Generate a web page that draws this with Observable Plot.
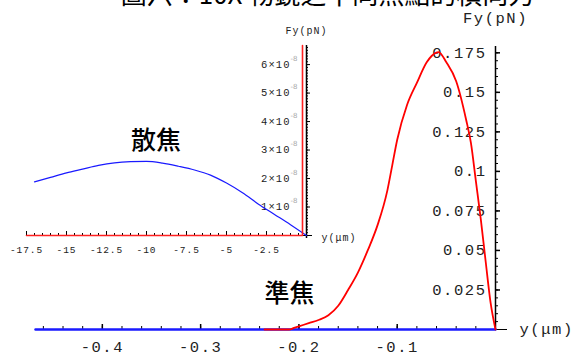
<!DOCTYPE html>
<html><head><meta charset="utf-8">
<script src="https://cdn.jsdelivr.net/npm/d3@7"></script>
<script src="https://cdn.jsdelivr.net/npm/@observablehq/plot@0.6"></script>
<style>
html,body{margin:0;padding:0;background:#fff;}
#wrap{position:relative;width:579px;height:355px;overflow:hidden;background:#fff;}
#wrap svg{position:absolute;left:0;top:0;}
#title{position:absolute;left:38px;width:579px;top:-20px;text-align:center;font-family:"Noto Sans CJK TC";font-size:26px;line-height:26px;white-space:nowrap;color:#000;}
g[font-family*="Mono"] text{letter-spacing:0.1em;}
</style></head>
<body><div id="wrap"><div id="title">圖六：10X 物鏡之不同焦點的橫向力</div></div>
<script>
const W = 579, H = 355;

// ---------- main chart (準焦) ----------
const mainXDomain = [-0.468, 0];
const mainYDomain = [0, 0.179];
const mainXMajor = [-0.4, -0.3, -0.2, -0.1];
const mainXLabels = ["-0.4", "-0.3", "-0.2", "-0.1"];
const mainYMajor = [0.025, 0.05, 0.075, 0.1, 0.125, 0.15, 0.175];
const mainYLabels = ["0.025", "0.05", "0.075", "0.1", "0.125", "0.15", "0.175"];
const mainXMinorStep = 0.02;
const mainYMinorStep = 0.005;

const focusX = [-0.235,-0.21,-0.205,-0.20,-0.19,-0.18,-0.17,-0.16,-0.15,-0.14,-0.13,-0.12,-0.11,-0.105,-0.10,-0.09,-0.08,-0.07,-0.065,-0.058,-0.05,-0.04,-0.03,-0.025,-0.02,-0.015,-0.01,-0.005,0];
const focusY = [0,0,0.001,0.002,0.004,0.006,0.009,0.015,0.025,0.036,0.050,0.066,0.088,0.104,0.120,0.142,0.156,0.169,0.173,0.1755,0.169,0.157,0.133,0.118,0.094,0.070,0.043,0.017,0];
const defocusMainX = [-0.468, 0];
const defocusMainY = [0, 0];

const mainAnnoText = ["準焦"];
const mainAnnoX = [-0.2096];
const mainAnnoY = [0.0222];

// ---------- inset chart (散焦) ----------
const insetXDomain = [-17.5, 0];
const insetYDomain = [0, 6.67e-8];
const insetXMajor = [-17.5, -15, -12.5, -10, -7.5, -5, -2.5];
const insetXLabels = ["-17.5", "-15", "-12.5", "-10", "-7.5", "-5", "-2.5"];
const insetYMajor = [1e-8, 2e-8, 3e-8, 4e-8, 5e-8, 6e-8];
const insetYLabels = ["1×10", "2×10", "3×10", "4×10", "5×10", "6×10"];
const insetYExponent = "-8";
const insetXMinorStep = 0.5;
const insetYMinorStep = 0.1e-8;

const defocusX = [-17,-16,-15,-14,-13,-12,-11,-10,-9,-8,-7,-6,-5,-4,-3,-2,-1,0];
const defocusY = [1.88e-8,2.04e-8,2.2e-8,2.33e-8,2.46e-8,2.55e-8,2.59e-8,2.6e-8,2.54e-8,2.43e-8,2.3e-8,2.12e-8,1.84e-8,1.5e-8,1.1e-8,0.74e-8,0.38e-8,0];
const focusInsetX = [-17.5, -0.25, -0.25];
const focusInsetY = [0, 0, 6.67e-8];

const insetAnnoText = ["散焦"];
const insetAnnoX = [-9.4];
const insetAnnoY = [3.3e-8];

// ---------- helpers ----------
const zip = (xs, ys) => xs.map((x, i) => ({x, y: ys[i]}));
const mono = "Liberation Mono";
const cjk = "Noto Sans CJK TC";

// main plot geometry
const mM = {left: 35, right: 84, top: 46, bottom: 26};
const mPxX = (mainXDomain[1] - mainXDomain[0]) / (W - mM.left - mM.right);
const mPxY = (mainYDomain[1] - mainYDomain[0]) / (H - mM.top - mM.bottom);
const mainXMinor = d3.range(0, mainXDomain[0] - 1e-9, -mainXMinorStep).filter(v => v < 0);
const mainYMinor = d3.range(mainYMinorStep, mainYDomain[1] + 1e-9, mainYMinorStep);

const mainPlot = Plot.plot({
  width: W, height: H,
  marginLeft: mM.left, marginRight: mM.right, marginTop: mM.top, marginBottom: mM.bottom,
  style: {background: "transparent", overflow: "visible"},
  x: {domain: mainXDomain, axis: null},
  y: {domain: mainYDomain, axis: null},
  marks: [
    Plot.ruleY([0], {x1: () => mainXDomain[0], x2: () => 12 * mPxX, stroke: "#000", strokeWidth: 1.2}),
    Plot.ruleX([0], {y1: () => 0, y2: () => mainYDomain[1], stroke: "#000", strokeWidth: 1.5}),
    Plot.ruleX(mainXMinor, {x: d => d, y1: () => 0, y2: () => 3 * mPxY, stroke: "#000"}),
    Plot.ruleX(mainXMajor, {x: d => d, y1: () => 0, y2: () => 5 * mPxY, stroke: "#000", strokeWidth: 1.5}),
    Plot.ruleY(mainYMinor, {y: d => d, x1: () => 0, x2: () => 3 * mPxX, stroke: "#000"}),
    Plot.ruleY(mainYMajor, {y: d => d, x1: () => 0, x2: () => 5 * mPxX, stroke: "#000", strokeWidth: 1.5}),
    Plot.text(mainXMajor, {x: d => d, y: () => 0, text: (d, i) => mainXLabels[i], dy: 18, fontFamily: mono, fontSize: 15.5, fill: "#222"}),
    Plot.text(mainYMajor, {x: () => 0, y: d => d, text: (d, i) => mainYLabels[i], dx: -9, textAnchor: "end", fontFamily: mono, fontSize: 15.5, fill: "#222"}),
    Plot.text(["Fy(pN)"], {x: () => 0, y: () => mainYDomain[1], text: d => d, dy: -28, fontFamily: mono, fontSize: 15.5, fill: "#222"}),
    Plot.text(["y(μm)"], {x: () => 0, y: () => 0, text: d => d, dx: 24, textAnchor: "start", fontFamily: mono, fontSize: 15.5, fill: "#222"}),
    Plot.line(zip(defocusMainX, defocusMainY), {x: "x", y: "y", stroke: "#1a1aff", strokeWidth: 2.5}),
    Plot.line(zip(focusX, focusY), {x: "x", y: "y", stroke: "#ff0000", strokeWidth: 1.8, curve: "monotone-x"}),
    Plot.text(mainAnnoText, {x: (d, i) => mainAnnoX[i], y: (d, i) => mainAnnoY[i], text: d => d, fontFamily: cjk, fontSize: 25, fontWeight: 500, fill: "#000"})
  ]
});

// inset geometry
const iM = {left: 26, right: 273, top: 45, bottom: 120};
const iPxX = (insetXDomain[1] - insetXDomain[0]) / (W - iM.left - iM.right);
const iPxY = (insetYDomain[1] - insetYDomain[0]) / (H - iM.top - iM.bottom);
const insetXMinor = d3.range(0, insetXDomain[0] - 1e-9, -insetXMinorStep).filter(v => v < 0);
const insetYMinor = d3.range(insetYMinorStep, insetYDomain[1] + 1e-18, insetYMinorStep);

const insetPlot = Plot.plot({
  width: W, height: H,
  marginLeft: iM.left, marginRight: iM.right, marginTop: iM.top, marginBottom: iM.bottom,
  style: {background: "transparent", overflow: "visible"},
  x: {domain: insetXDomain, axis: null},
  y: {domain: insetYDomain, axis: null},
  marks: [
    Plot.ruleY([0], {x1: () => insetXDomain[0], x2: () => 6 * iPxX, stroke: "#000", strokeWidth: 1.2}),
    Plot.ruleX([0], {y1: () => -3 * iPxY, y2: () => insetYDomain[1], stroke: "#000", strokeWidth: 1.5}),
    Plot.ruleX(insetXMinor, {x: d => d, y1: () => 0, y2: () => 2 * iPxY, stroke: "#000"}),
    Plot.ruleX(insetXMajor, {x: d => d, y1: () => 0, y2: () => 4 * iPxY, stroke: "#000"}),
    Plot.ruleY(insetYMinor, {y: d => d, x1: () => 0, x2: () => 2 * iPxX, stroke: "#000"}),
    Plot.ruleY(insetYMajor, {y: d => d, x1: () => 0, x2: () => 4 * iPxX, stroke: "#000"}),
    Plot.text(insetXMajor, {x: d => d, y: () => 0, text: (d, i) => insetXLabels[i], dy: 14, fontFamily: mono, fontSize: 9.5, fill: "#222"}),
    Plot.text(insetYMajor, {x: () => 0, y: d => d, text: (d, i) => insetYLabels[i], dx: -16, textAnchor: "end", fontFamily: mono, fontSize: 10.5, fill: "#222"}),
    Plot.text(insetYMajor, {x: () => 0, y: d => d, text: () => insetYExponent, dx: -16, dy: -6, textAnchor: "start", fontFamily: "DejaVu Sans", fontSize: 7, fill: "#aaa"}),
    Plot.text(["Fy(pN)"], {x: () => 0, y: () => insetYDomain[1], text: d => d, dy: -15, fontFamily: mono, fontSize: 10, fill: "#222"}),
    Plot.text(["y(μm)"], {x: () => 0, y: () => 0, text: d => d, dx: 15, dy: 2, textAnchor: "start", fontFamily: mono, fontSize: 10, fill: "#222"}),
    Plot.line(zip(defocusX, defocusY), {x: "x", y: "y", stroke: "#1a1aff", strokeWidth: 1.2, curve: "monotone-x"}),
    Plot.line(zip(focusInsetX, focusInsetY), {x: "x", y: "y", stroke: "#ff2020", strokeWidth: 1.6}),
    Plot.text(insetAnnoText, {x: (d, i) => insetAnnoX[i], y: (d, i) => insetAnnoY[i], text: d => d, fontFamily: cjk, fontSize: 25, fontWeight: 500, fill: "#000"})
  ]
});

const wrap = document.getElementById("wrap");
wrap.appendChild(mainPlot);
wrap.appendChild(insetPlot);
</script></body></html>
